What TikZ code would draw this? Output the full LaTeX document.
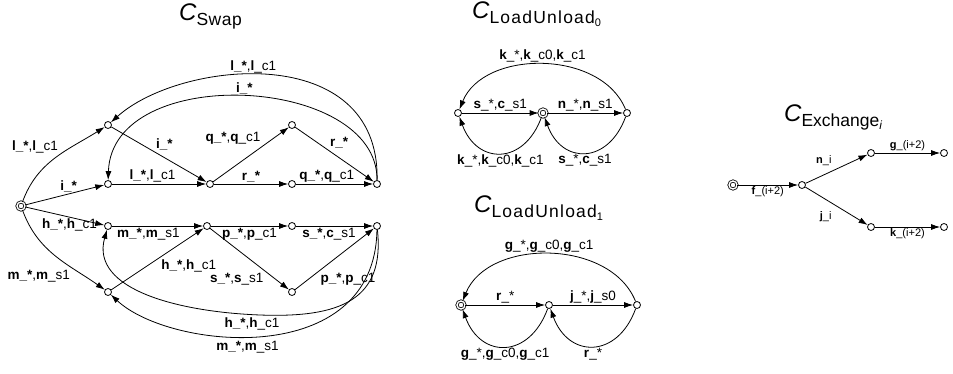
\documentclass[tikz,border=0pt]{standalone}
\usepackage{fontspec}
\setmainfont{Liberation Sans}
\usetikzlibrary{arrows.meta}

% automaton name, C with a sans subscript
\newcommand{\cname}[2][0]{{\fontsize{24}{24}\selectfont\itshape C}\raisebox{-4.5pt}{\addfontfeatures{LetterSpace=#1}\fontsize{17.5}{18}\selectfont #2}}

\begin{document}
\begin{tikzpicture}[x=1pt, y=1pt,
    state/.style={circle, draw, line width=0.8pt, inner sep=0pt, minimum size=7pt},
    init/.style={circle, draw, line width=0.8pt, double, double distance=1.4pt, inner sep=0pt, minimum size=8pt},
    arrow/.style={-{Latex[length=9pt,width=6pt]}, line width=0.8pt},
    lbl/.style={font=\fontsize{13.5}{14}\selectfont, inner sep=1.5pt},
    slbl/.style={font=\fontsize{11}{12}\selectfont, inner sep=1.5pt},
    ttl/.style={anchor=base west, inner sep=0pt},
]
\useasboundingbox (0,0) rectangle (953,-374);

%% C_Swap
\node[ttl] (tSwap) at (179,-21) {\cname[3]{Swap}};
\node[init] (s0) at (21,-206) {};
\node[state] (sA) at (108,-125) {};
\node[state] (sB) at (108,-184) {};
\node[state] (sC) at (210,-184) {};
\node[state] (sD) at (292,-125) {};
\node[state] (sE) at (292,-184) {};
\node[state] (sF) at (377,-184) {};
\node[state] (sG) at (108,-226) {};
\node[state] (sH) at (207,-226) {};
\node[state] (sI) at (292,-226) {};
\node[state] (sJ) at (377,-226) {};
\node[state] (sK) at (292,-292) {};
\node[state] (sL) at (108,-292) {};
\coordinate (hLow) at (260,-315);

\begin{scope}[every node/.style={lbl}]
\draw[arrow] (s0) to[out=70,in=212] node[pos=0.55,above left] {\textbf{l\_*},\textbf{l}\_c1} (sA);
\draw[arrow] (s0) -- (sB) node[pos=0.55,above] {\textbf{i\_*}};
\draw[arrow] (s0) -- (sG) node[pos=0.56,below] {\textbf{h\_*},\textbf{h}\_c1};
\draw[arrow] (s0) to[out=-70,in=145] node[pos=0.68,below left] {\textbf{m\_*},\textbf{m}\_s1} (sL);

\draw[arrow] (sA) -- (sC) node[pos=0.45,above right] {\textbf{i\_*}};
\draw[arrow] (sB) -- (sC) node[pos=0.43,above] {\textbf{l\_*},\textbf{l}\_c1};
\draw[arrow] (sC) -- (sD) node[pos=0.65,above left] {\textbf{q\_*},\textbf{q}\_c1};
\draw[arrow] (sC) -- (sE) node[midway,above] {\textbf{r\_*}};
\draw[arrow] (sD) -- (sF) node[pos=0.42,above right] {\textbf{r\_*}};
\draw[arrow] (sE) -- (sF) node[pos=0.4,above] {\textbf{q\_*},\textbf{q}\_c1};
\draw[arrow] (sF) .. controls +(3,144) and +(72,65) .. (sA) node[pos=0.55,above] {\textbf{l\_*},\textbf{l}\_c1};
\draw[arrow] (sF) .. controls +(1,109) and +(4,122) .. (sB) node[pos=0.5,above] {\textbf{i\_*}};

\draw[arrow] (sG) -- (sH) node[pos=0.4,below] {\textbf{m\_*},\textbf{m}\_s1};
\draw[arrow] (sH) -- (sI) node[midway,below] {\textbf{p\_*},\textbf{p}\_c1};
\draw[arrow] (sI) -- (sJ) node[pos=0.43,below] {\textbf{s\_*},\textbf{c}\_s1};
\draw[arrow] (sH) -- (sK) node[pos=0.7,below left] {\textbf{s\_*},\textbf{s}\_s1};
\draw[arrow] (sK) -- (sJ) node[pos=0.3,anchor=north west] {\textbf{p\_*},\textbf{p}\_c1};
\draw[arrow] (sL) -- (sH) node[pos=0.52,anchor=north west] {\textbf{h\_*},\textbf{h}\_c1};
\draw[arrow] (sJ) .. controls +(8,-74) and +(80,-3) .. (hLow) node[below=1pt,xshift=-8pt] {\textbf{h\_*},\textbf{h}\_c1}
    .. controls +(-80,3) and +(-18,-64) .. (sG);
\draw[arrow] (sJ) .. controls +(-2,-144) and +(62,-58) .. (sL) node[pos=0.55,below=3pt] {\textbf{m\_*},\textbf{m}\_s1};
\end{scope}

%% C_LoadUnload_0
\node[ttl] (tLU0) at (472,-19) {\cname[7]{LoadUnload\raisebox{-3pt}{\fontsize{11}{11}\selectfont 0}}};
\node[state] (u0a) at (458,-113) {};
\node[init] (u0b) at (543,-113) {};
\node[state] (u0c) at (627,-113) {};

\begin{scope}[every node/.style={lbl}]
\draw[arrow] (u0a) -- (u0b) node[midway,above] {\textbf{s}\_*,\textbf{c}\_s1};
\draw[arrow] (u0b) -- (u0c) node[midway,above] {\textbf{n}\_*,\textbf{n}\_s1};
\draw[arrow] (u0c) to[bend right=68] node[midway,above] {\textbf{k}\_*,\textbf{k}\_c0,\textbf{k}\_c1} (u0a);
\draw[arrow] (u0b) to[out=-110,in=-70,looseness=1.6] node[midway,below] {\textbf{k}\_*,\textbf{k}\_c0,\textbf{k}\_c1} (u0a);
\draw[arrow] (u0c) to[out=-110,in=-70,looseness=1.6] node[midway,below] {\textbf{s}\_*,\textbf{c}\_s1} (u0b);
\end{scope}

%% C_LoadUnload_1
\node[ttl] (tLU1) at (474,-213) {\cname[7]{LoadUnload\raisebox{-3pt}{\fontsize{11}{11}\selectfont 1}}};
\node[init] (u1a) at (461,-305) {};
\node[state] (u1b) at (549,-305) {};
\node[state] (u1c) at (637,-305) {};

\begin{scope}[every node/.style={lbl}]
\draw[arrow] (u1a) -- (u1b) node[midway,above] {\textbf{r}\_*};
\draw[arrow] (u1b) -- (u1c) node[midway,above] {\textbf{j}\_*,\textbf{j}\_s0};
\draw[arrow] (u1c) to[bend right=68] node[midway,above] {\textbf{g}\_*,\textbf{g}\_c0,\textbf{g}\_c1} (u1a);
\draw[arrow] (u1b) to[out=-110,in=-70,looseness=1.6] node[midway,below] {\textbf{g}\_*,\textbf{g}\_c0,\textbf{g}\_c1} (u1a);
\draw[arrow] (u1c) to[out=-110,in=-70,looseness=1.6] node[midway,below] {\textbf{r}\_*} (u1b);
\end{scope}

%% C_Exchange_i
\node[ttl] (tEx) at (784,-122) {\cname{Exchange\raisebox{-3pt}{\fontsize{12}{12}\selectfont\itshape i}}};
\node[init] (e0) at (733,-185) {};
\node[state] (e1) at (802,-185) {};
\node[state] (e2) at (871,-153) {};
\node[state] (e3) at (944,-153) {};
\node[state] (e4) at (871,-227) {};
\node[state] (e5) at (944,-227) {};

\begin{scope}[every node/.style={slbl}]
\draw[arrow] (e0) -- (e1) node[midway,below] {\textbf{f}\_(i+2)};
\draw[arrow] (e1) -- (e2) node[pos=0.45,above left,yshift=3pt] {\textbf{n}\_i};
\draw[arrow] (e1) -- (e4) node[pos=0.45,below left,yshift=-6pt] {\textbf{j}\_i};
\draw[arrow] (e2) -- (e3) node[midway,above] {\textbf{g}\_(i+2)};
\draw[arrow] (e4) -- (e5) node[midway,below] {\textbf{k}\_(i+2)};
\end{scope}
\end{tikzpicture}
\end{document}
